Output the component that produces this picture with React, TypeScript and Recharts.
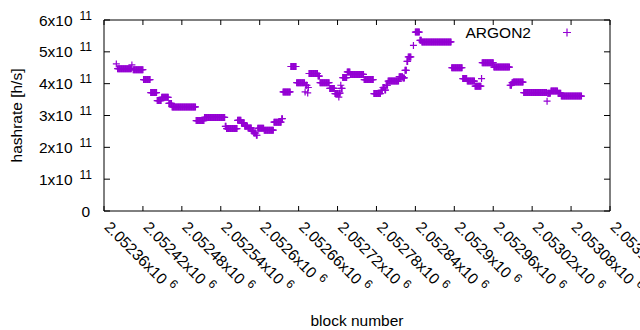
import { ScatterChart, Scatter, XAxis, YAxis, ReferenceArea } from 'recharts';

// block numbers are stored as offsets from this block
const blockBase = 2052360;

// runs of consecutive blocks sharing one hashrate estimate (x10^11 h/s)
const runFirst = [
  19, 21, 43, 45, 61, 72, 82, 89, 100, 105, 142, 155, 187, 189, 206, 212, 217, 222, 228, 231,
  235, 237, 247, 262, 274, 276, 288, 297, 310, 311, 314, 315, 316, 330, 333, 348, 356, 362, 363, 365,
  366, 368, 375, 380, 401, 416, 427, 430, 433, 435, 438, 455, 461, 464, 467, 469, 477, 480, 487, 490,
  536, 553, 560, 572, 582, 583, 601, 626, 629, 631, 647, 683, 684, 689, 700, 705,
];
const runLast = [
  19, 42, 43, 60, 71, 81, 88, 99, 104, 141, 154, 186, 188, 205, 211, 216, 221, 227, 230, 234,
  236, 246, 261, 273, 275, 287, 296, 309, 310, 313, 314, 315, 329, 332, 347, 355, 361, 362, 364, 365,
  367, 374, 379, 400, 415, 426, 429, 432, 434, 437, 454, 460, 463, 466, 468, 473, 477, 486, 489, 535,
  552, 559, 571, 581, 582, 600, 625, 628, 630, 646, 682, 683, 688, 699, 704, 736,
];
const runHashrate = [
  4.62, 4.47, 4.59, 4.44, 4.13, 3.72, 3.47, 3.57, 3.38, 3.27, 2.84, 2.94, 2.66, 2.59, 2.85, 2.77, 2.66, 2.61, 2.51, 2.45,
  2.38, 2.6, 2.54, 2.79, 2.9, 3.74, 4.54, 4.03, 3.74, 3.95, 3.71, 3.88, 4.32, 4.24, 4.03, 3.85, 3.69, 3.58, 3.7, 3.95,
  3.85, 4.19, 4.37, 4.29, 4.13, 3.69, 3.79, 3.88, 3.8, 3.95, 4.08, 4.22, 4.18, 4.42, 4.7, 4.84, 5.2, 5.62, 5.36, 5.31,
  4.5, 4.16, 4.08, 3.92, 4.16, 4.66, 4.52, 3.95, 4.03, 4.05, 3.72, 3.45, 3.7, 3.77, 3.7, 3.61,
];

const xTicks = [
  2052360, 2052420, 2052480, 2052540, 2052600, 2052660, 2052720, 2052780,
  2052840, 2052900, 2052960, 2053020, 2053080, 2053140,
];
const yTicks = [0, 1e11, 2e11, 3e11, 4e11, 5e11, 6e11];

const COLOR = '#9400d3';
const FONT = '"Liberation Sans", Arial, sans-serif';
const W = 640;
const H = 330;
const PLOT_LEFT = 104;
const PLOT_RIGHT = 610;
const PLOT_TOP = 20;
const PLOT_BOTTOM = 211;

const points: { block: number; hashrate: number }[] = [];
runFirst.forEach((first, i) => {
  for (let b = first; b <= runLast[i]; b++) {
    points.push({ block: blockBase + b, hashrate: runHashrate[i] * 1e11 });
  }
});

const Plus = (props: any) => {
  const { cx, cy } = props;
  if (cx == null || cy == null) return null;
  return (
    <path
      d={`M${cx - 3.5},${cy}h7M${cx},${cy - 3.5}v7`}
      stroke={COLOR}
      strokeWidth={1.2}
      fill="none"
    />
  );
};

const XTick = (props: any) => {
  const { x, payload } = props;
  const label = parseFloat((payload.value / 1e6).toFixed(5)).toString();
  const ty = 228;
  return (
    <g>
      <line x1={x} y1={PLOT_BOTTOM} x2={x} y2={PLOT_BOTTOM - 5} stroke="#000" />
      <line x1={x} y1={PLOT_TOP} x2={x} y2={PLOT_TOP + 5} stroke="#000" />
      <text
        x={x - 0.5}
        y={ty}
        transform={`rotate(45, ${x - 0.5}, ${ty})`}
        textAnchor="start"
        fontFamily={FONT}
        fontSize={15.5}
        fill="#000"
      >
        {label}x10
        <tspan dx={5} dy={-6} fontSize={12}>6</tspan>
      </text>
    </g>
  );
};

const YTick = (props: any) => {
  const { y, payload } = props;
  const v = payload.value;
  return (
    <g>
      <line x1={PLOT_LEFT} y1={y} x2={PLOT_LEFT + 6} y2={y} stroke="#000" />
      <line x1={PLOT_RIGHT} y1={y} x2={PLOT_RIGHT - 6} y2={y} stroke="#000" />
      {v === 0 ? (
        <text x={90} y={y + 5.5} textAnchor="end" fontFamily={FONT} fontSize={15.5} fill="#000">
          0
        </text>
      ) : (
        <text x={92} y={y + 5.5} textAnchor="end" fontFamily={FONT} fontSize={15.5} fill="#000">
          {Math.round(v / 1e11)}x10
          <tspan dx={7} dy={-6} fontSize={12}>11</tspan>
        </text>
      )}
    </g>
  );
};

export default function App() {
  return (
    <div style={{ position: 'absolute', left: 0, top: 0, width: W, height: H, background: '#fff' }}>
      <ScatterChart
        width={W}
        height={H}
        margin={{ top: PLOT_TOP, right: W - PLOT_RIGHT, left: 0, bottom: 0 }}
      >
        <XAxis
          type="number"
          dataKey="block"
          domain={[xTicks[0], xTicks[xTicks.length - 1]]}
          ticks={xTicks}
          interval={0}
          tick={<XTick />}
          tickLine={false}
          axisLine={false}
          tickSize={0}
          tickMargin={0}
          height={H - PLOT_BOTTOM}
          allowDataOverflow
        />
        <YAxis
          type="number"
          dataKey="hashrate"
          domain={[0, 6e11]}
          ticks={yTicks}
          interval={0}
          tick={<YTick />}
          tickLine={false}
          axisLine={false}
          tickSize={0}
          tickMargin={0}
          width={PLOT_LEFT}
          allowDataOverflow
        />
        <Scatter data={points} shape={<Plus />} isAnimationActive={false} />
        <ReferenceArea
          x1={xTicks[0]}
          x2={xTicks[xTicks.length - 1]}
          y1={0}
          y2={6e11}
          fill="none"
          stroke="#000"
          strokeWidth={1}
        />
      </ScatterChart>
      <svg
        width={W}
        height={H}
        style={{ position: 'absolute', left: 0, top: 0, pointerEvents: 'none' }}
      >
        <text
          transform="translate(22, 115.5) rotate(-90)"
          textAnchor="middle"
          fontFamily={FONT}
          fontSize={15.5}
          fill="#000"
        >
          hashrate [h/s]
        </text>
        <text x={357} y={326} textAnchor="middle" fontFamily={FONT} fontSize={15.5} fill="#000">
          block number
        </text>
        <text x={531} y={37.5} textAnchor="end" fontFamily={FONT} fontSize={15.5} fill="#000">
          ARGON2
        </text>
        <path d="M563,32.5h8M567,28.5v8" stroke={COLOR} strokeWidth={1.2} fill="none" />
      </svg>
    </div>
  );
}
